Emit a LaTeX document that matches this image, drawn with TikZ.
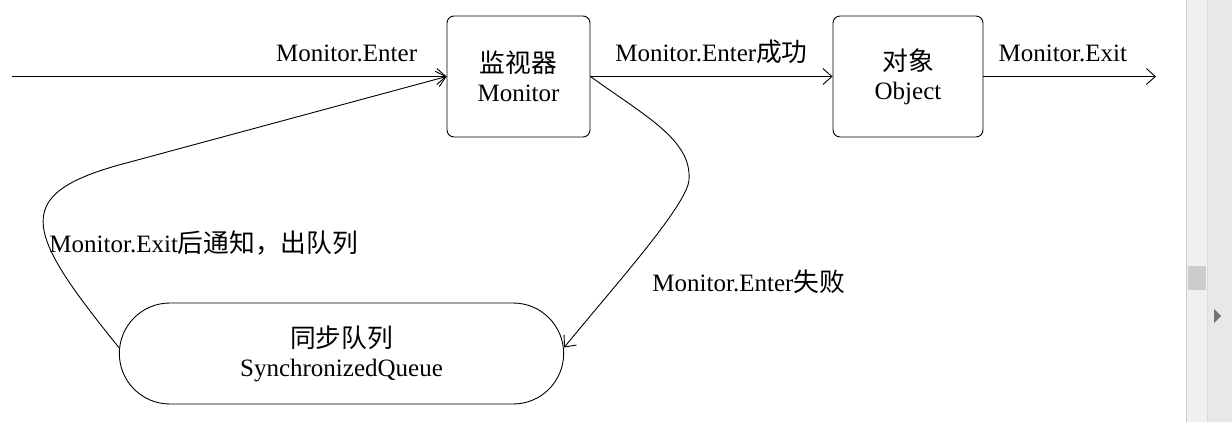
\documentclass[tikz,border=0pt]{standalone}
\usepackage{fontspec}
\setmainfont{Liberation Serif}
\newfontfamily\cjk[Scale=1.03]{Noto Sans CJK SC}
\usetikzlibrary{arrows.meta,shapes.misc}

\begin{document}
\begin{tikzpicture}[x=1pt, y=-1pt, line width=0.9pt,%
	>={Straight Barb[length=9pt,width=16pt,line width=0.9pt]},
	every node/.style={font=\fontsize{25}{29}\selectfont},
	box/.style={draw, rounded corners=7pt, minimum height=121pt, align=center},
	queuebox/.style={draw, rounded rectangle, minimum width=451pt, minimum height=101pt, align=center},
	lbl/.style={text height=17pt, text depth=5pt, inner sep=2pt}]
	\useasboundingbox (0,0) rectangle (1232,422);

	% scroll bar on the right
	\fill[black!6] (1186,0) rectangle (1232,422);
	\fill[black!9] (1207,0) rectangle (1232,422);
	\draw[black!20, line width=0.8pt] (1186,0) -- (1186,422);
	\draw[black!14, line width=0.8pt] (1207,0) -- (1207,422);
	\fill[black!20] (1188,266) rectangle (1206,290);
	\fill[black!55] (1214,309) -- (1221,316) -- (1214,323) -- cycle;

	\node[box, minimum width=143pt] (monitor) at (518.5,76.5) {{\cjk 监视器}\\Monitor};
	\node[box, minimum width=150pt] (object) at (908,76.5) {{\cjk 对象}\\Object};
	\node[queuebox] (queue) at (341.5,353.5) {{\cjk 同步队列}\\SynchronizedQueue};

	\coordinate (in) at (12,76.5);
	\coordinate (out) at (1156,76.5);

	\path[->]
	(in) edge node[lbl, pos=.77, above=8pt] (lenter) {Monitor.Enter} (monitor)
	(monitor) edge node[lbl, above=8pt] (lok) {Monitor.Enter{\cjk 成功}} (object)
	(object) edge node[lbl, pos=.46, above=8pt] (lexit) {Monitor.Exit} (out);

	\draw[->] (monitor.east) .. controls (645,116) and (692,140) .. (689,180)
		.. controls (687,205) and (617,283) .. ([yshift=6pt]queue.east);
	\draw[->] ([yshift=6pt]queue.west) .. controls (22,228) and (10,193) .. (130,162) -- (monitor.west);

	\node[lbl, anchor=west] (lfail) at (650,285) {Monitor.Enter{\cjk 失败}};
	\node[lbl, anchor=west] (lnotify) at (47,247) {Monitor.Exit{\cjk 后通知，出队列}};
\end{tikzpicture}
\end{document}
